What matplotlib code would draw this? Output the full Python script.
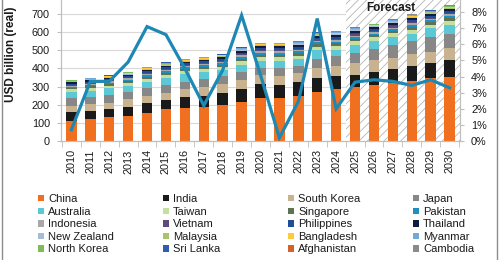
import matplotlib
matplotlib.use("Agg")
import matplotlib.pyplot as plt
from matplotlib.patches import Patch, Rectangle
from matplotlib.ticker import FuncFormatter, FixedLocator

plt.rcParams['font.family'] = ['Liberation Sans', 'DejaVu Sans']
plt.rcParams['hatch.linewidth'] = 0.6

years = [str(y) for y in range(2010, 2031)]

# stacked demand by country, USD billion (real)
china = [112, 119, 130, 138, 156, 175, 184, 189, 197, 217, 235, 235, 248, 270, 285, 296, 309, 318, 331, 345, 353]
india = [46, 46, 45, 51, 52, 51, 60, 59, 66, 68, 79, 74, 79, 75, 73, 70, 73, 77, 84, 87, 94]
south_korea = [35, 37, 33, 41, 40, 39, 41, 48, 51, 51, 50, 49, 46, 55, 57, 62, 63, 65, 63, 61, 64]
japan = [42, 42, 46, 42, 42, 44, 42, 46, 44, 46, 40, 42, 42, 55, 54, 59, 64, 69, 73, 82, 82]
australia = [37, 34, 36, 31, 37, 36, 42, 40, 32, 37, 39, 43, 37, 45, 35, 42, 44, 46, 42, 46, 47]
taiwan = [13, 15, 15, 16, 17, 18, 17, 17, 18, 20, 20, 20, 19, 21, 21, 20, 19, 19, 21, 21, 22]
singapore = [8, 9, 10, 10, 11, 12, 11, 11, 12, 13, 13, 13, 13, 13, 13, 13, 12, 12, 14, 13, 14]
pakistan = [6, 7, 7, 8, 8, 9, 9, 8, 9, 10, 10, 10, 10, 10, 10, 10, 9, 10, 11, 10, 11]
indonesia = [7, 7, 8, 8, 8, 9, 9, 8, 9, 10, 10, 10, 10, 10, 10, 10, 10, 10, 11, 10, 11]
vietnam = [4, 4, 4, 5, 5, 5, 5, 5, 5, 6, 6, 6, 6, 6, 6, 6, 6, 6, 6, 6, 7]
philippines = [6, 7, 7, 8, 8, 9, 8, 8, 9, 10, 10, 10, 10, 11, 11, 10, 9, 10, 11, 11, 11]
thailand = [7, 8, 7, 8, 9, 9, 9, 9, 9, 10, 10, 10, 10, 11, 10, 10, 10, 10, 11, 11, 11]
new_zealand = [3, 3, 3, 3, 3, 4, 3, 3, 4, 4, 4, 4, 4, 4, 4, 4, 4, 4, 4, 4, 4]
malaysia = [3, 3, 3, 3, 3, 4, 4, 3, 4, 4, 4, 4, 4, 4, 4, 4, 4, 4, 4, 4, 5]
bangladesh = [2, 2, 2, 2, 3, 3, 3, 3, 3, 3, 3, 3, 3, 3, 3, 3, 3, 3, 3, 3, 3]
myanmar = [2, 2, 2, 2, 2, 3, 2, 2, 3, 3, 3, 3, 3, 3, 3, 3, 3, 3, 3, 3, 3]
north_korea = [1, 1, 2, 2, 2, 2, 2, 2, 2, 2, 2, 2, 2, 2, 2, 2, 2, 2, 2, 2, 2]
sri_lanka = [1, 2, 2, 2, 2, 2, 2, 2, 2, 2, 2, 2, 2, 2, 2, 2, 2, 2, 2, 2, 2]
afghanistan = [1, 1, 1, 1, 1, 1, 1, 1, 1, 1, 1, 1, 1, 1, 1, 1, 1, 1, 1, 1, 1]
cambodia = [1, 1, 1, 1, 1, 1, 1, 1, 1, 1, 1, 1, 1, 1, 1, 1, 1, 1, 1, 1, 1]

# growth rate, % (right axis)
growth = [0.7, 3.7, 3.7, 4.9, 7.1, 6.6, 4.5, 2.2, 4.4, 7.8, 4.1, 0.2, 2.45, 7.6, 2.0, 3.65, 3.8, 3.7, 3.45, 3.8, 3.3]

series = [
    ('China', china, '#F0701F'),
    ('India', india, '#1A1A1A'),
    ('South Korea', south_korea, '#C9B28F'),
    ('Japan', japan, '#878787'),
    ('Australia', australia, '#5CC8D6'),
    ('Taiwan', taiwan, '#C5DFA0'),
    ('Singapore', singapore, '#5F7352'),
    ('Pakistan', pakistan, '#1F8FBF'),
    ('Indonesia', indonesia, '#A8A8A8'),
    ('Vietnam', vietnam, '#5E4A7E'),
    ('Philippines', philippines, '#1F4E96'),
    ('Thailand', thailand, '#101C40'),
    ('New Zealand', new_zealand, '#A7BBD5'),
    ('Malaysia', malaysia, '#A8C46E'),
    ('Bangladesh', bangladesh, '#FFC93C'),
    ('Myanmar', myanmar, '#72A9D9'),
    ('North Korea', north_korea, '#7DBB5B'),
    ('Sri Lanka', sri_lanka, '#2F5DAF'),
    ('Afghanistan', afghanistan, '#D4622A'),
    ('Cambodia', cambodia, '#8A8A8A'),
]

fig = plt.figure(figsize=(5, 2.6), dpi=100)
ax = fig.add_axes([0.122, 0.4577, 0.798, 0.5577])
ax2 = ax.twinx()

x = list(range(len(years)))
bottom = [0] * len(years)
for name, vals, col in series:
    ax.bar(x, vals, 0.55, bottom=bottom, color=col, zorder=2, linewidth=0)
    bottom = [b + v for b, v in zip(bottom, vals)]

ax.axvspan(14.5, 20.55, facecolor='white', edgecolor='#b5b5b5', hatch='////', lw=0, zorder=1)
ax.text(16.9, 0.962, 'Forecast', transform=ax.get_xaxis_transform(), ha='center', va='top',
        fontsize=8.5, fontweight='bold', color='#1a1a1a')

ax2.plot(x, growth, color='#1E88B5', lw=2.3, solid_joinstyle='miter')

ax.set_xlim(-0.55, 20.55)
ax.set_ylim(0, 800)
ax.set_yticks(range(0, 701, 100))
ax2.set_ylim(0, 9)
ax2.set_yticks(range(0, 9))
ax2.yaxis.set_major_formatter(FuncFormatter(lambda v, p: f'{v:.0f}%'))

ax.set_axisbelow(True)
ax.grid(axis='y', color='#d9d9d9', lw=0.8, zorder=0)

ax.set_xticks(x)
ax.set_xticklabels(years, rotation=90)
ax.xaxis.set_minor_locator(FixedLocator([i - 0.5 for i in range(len(years) + 1)]))
ax.tick_params(axis='x', which='major', length=0, pad=6, labelsize=7.8, colors='#1a1a1a')
ax.tick_params(axis='x', which='minor', length=4, color='#bfbfbf')
ax.tick_params(axis='y', length=3, color='#bfbfbf', pad=5, labelsize=7.8, labelcolor='#1a1a1a')
ax2.tick_params(axis='y', length=3, color='#bfbfbf', pad=5, labelsize=7.8, labelcolor='#1a1a1a')

for a in (ax, ax2):
    a.spines['top'].set_visible(False)
    for s in ('left', 'right', 'bottom'):
        a.spines[s].set_color('#bfbfbf')

fig.text(0.022, 0.792, 'USD billion (real)', rotation=90, ha='center', va='center',
         fontsize=8.5, fontweight='bold', color='#1a1a1a')

# legend, one block per column, row-major order
handles = [Patch(facecolor=c, edgecolor='none', label=n) for n, _, c in series]
col_x = [0.076, 0.326, 0.576, 0.826]
for c in range(4):
    fig.legend(handles=handles[c::4], loc='upper left', bbox_to_anchor=(col_x[c], 0.253),
               frameon=False, fontsize=8, borderpad=0, borderaxespad=0,
               handlelength=0.5, handleheight=0.5, handletextpad=0.4, labelspacing=0.23,
               labelcolor='#1a1a1a')

fig.patches.append(Rectangle((0.004, -0.05), 0.99, 1.1, transform=fig.transFigure,
                             fill=False, edgecolor='#8c8c8c', lw=1))

fig.savefig('out.png', dpi=100)
